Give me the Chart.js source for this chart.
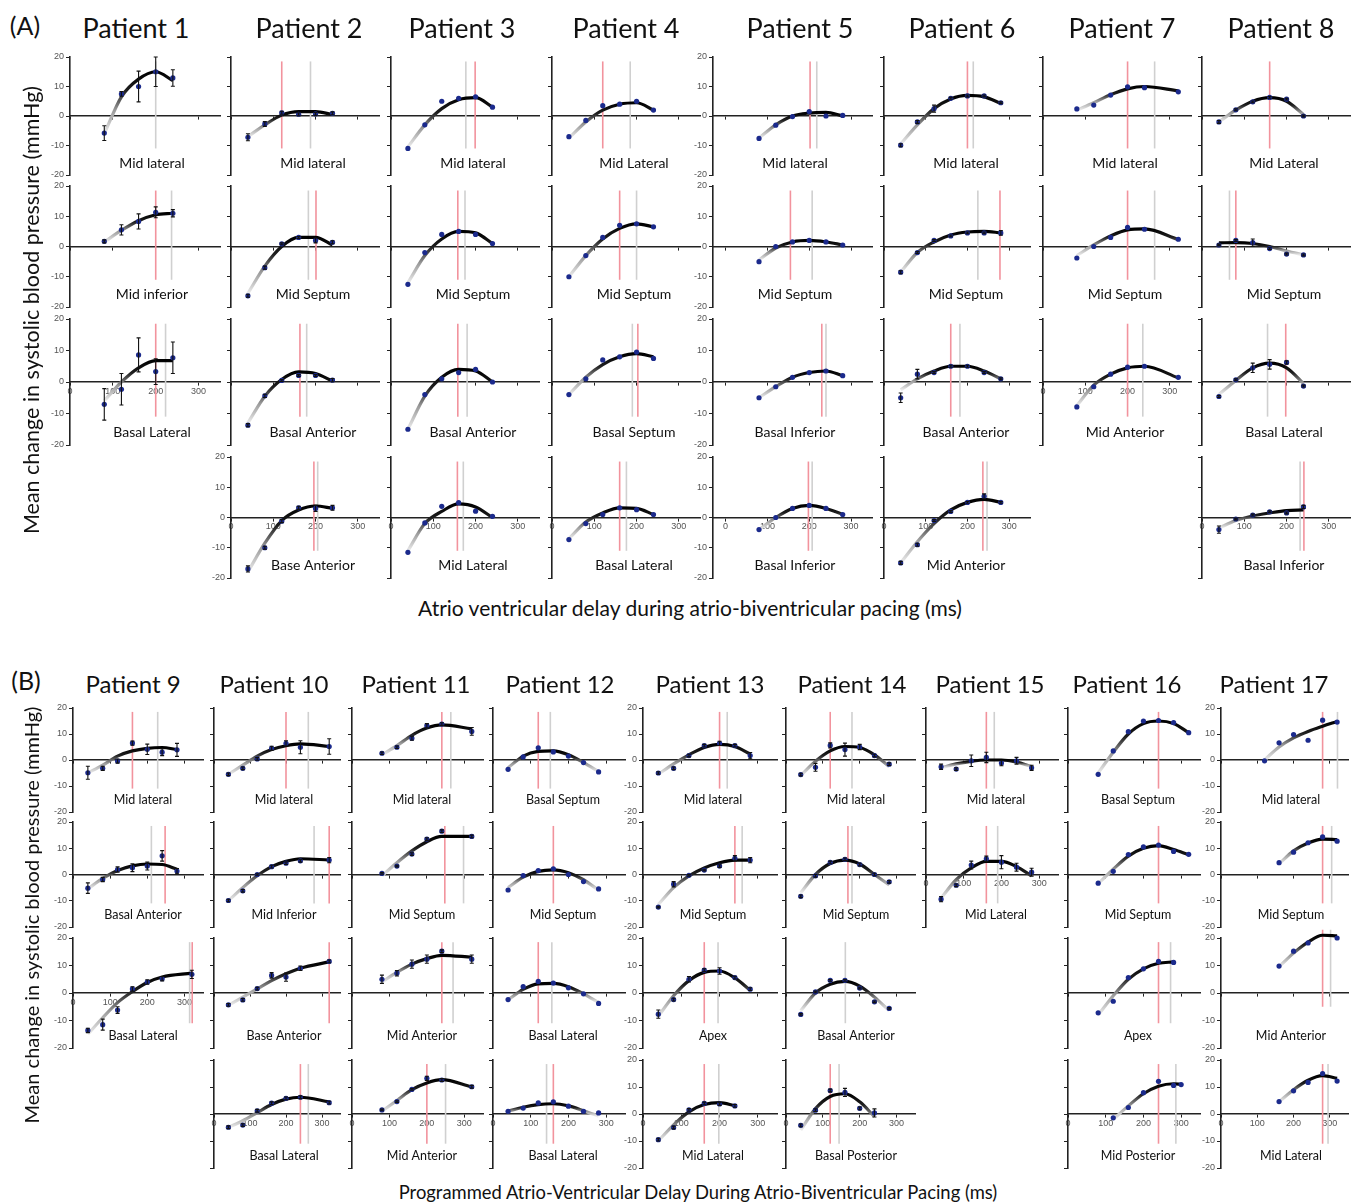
<!DOCTYPE html>
<html>
<head>
<meta charset="utf-8">
<script src="https://cdn.jsdelivr.net/npm/chart.js@4.4.0/dist/chart.umd.min.js"></script>
<style>
  body { margin: 0; background: #fff; width: 1354px; height: 1204px; position: relative; overflow: hidden; font-family: Lato, "Noto Sans", sans-serif; color: #111; }
  .t { position: absolute; white-space: nowrap; transform: translate(-50%, -50%); }
  .rot { transform: translate(-50%, -50%) rotate(-90deg); }
  canvas { position: absolute; }
</style>
</head>
<body>
<script>
// ---- data ----
const avTicks = [0, 100, 200, 300];
const sbpTicks = [-20, -10, 0, 10, 20];
const refSpan = [-11, 18.5];

const patientsA = ['Patient 1', 'Patient 2', 'Patient 3', 'Patient 4', 'Patient 5', 'Patient 6', 'Patient 7', 'Patient 8'];
const patientsB = ['Patient 9', 'Patient 10', 'Patient 11', 'Patient 12', 'Patient 13', 'Patient 14', 'Patient 15', 'Patient 16', 'Patient 17'];

// patient 1
const p1_sites = ['Mid lateral', 'Mid inferior', 'Basal Lateral'];
const p1_av = [[80, 120, 160, 200, 240], [80, 120, 160, 200, 240], [80, 120, 160, 200, 240]];
const p1_sbp = [[-5.8, 7.5, 10, 15, 12.9], [1.7, 5.5, 8.3, 11.3, 11], [-7.1, -2.3, 8.6, 3.3, 7.7]];
const p1_fit = [[-6, 6.5, 12.5, 15, 12], [1.5, 5.3, 8.5, 10.5, 11], [-6, 0, 4.5, 6.8, 6.8]];
const p1_err = [[2.5, 0.8, 5.2, 5, 2.8], [0.5, 1.7, 2.5, 1.8, 1.2], [5, 5, 5.4, 4.1, 5]];
const p1_opt = [null, 200, 200];
const p1_alt = [200, 237, 223];

// patient 2
const p2_sites = ['Mid lateral', 'Mid Septum', 'Basal Anterior', 'Base Anterior'];
const p2_av = [[40, 80, 120, 160, 200, 240], [40, 80, 120, 160, 200, 240], [40, 80, 120, 160, 200, 240], [40, 80, 120, 160, 200, 240]];
const p2_sbp = [[-7.2, -2.7, 1.1, 0.6, 0.7, 0.9], [-16.3, -7, 0.9, 3, 2, 1.4], [-13.7, -4.4, 0.5, 2.1, 2.1, 0.6], [-17, -10, -1.2, 3.2, 3, 3.2]];
const p2_fit = [[-7, -3, 0.3, 1.5, 1.5, 0.5], [-15.5, -6.5, 0, 3, 3, 0.5], [-13, -4.5, 0.8, 3.2, 2.7, 0.3], [-18, -8.5, -1, 2.5, 3.8, 3]];
const p2_err = [[1.2, 0.8, 0.5, 0.5, 0.5, 0.5], [0.5, 0.5, 0.3, 0.3, 0.8, 0.5], [0.5, 0.5, 0.3, 0.3, 0.3, 0.5], [1, 0.5, 0.5, 0.5, 1, 0.8]];
const p2_opt = [120, 201, 163, 196];
const p2_alt = [188, 183, 179, 205];

// patient 3
const p3_sites = ['Mid lateral', 'Mid Septum', 'Basal Anterior', 'Mid Lateral'];
const p3_av = [[40, 80, 120, 160, 200, 240], [40, 80, 120, 160, 200, 240], [40, 80, 120, 160, 200, 240], [40, 80, 120, 160, 200, 240]];
const p3_sbp = [[-11, -3, 5, 6, 6.5, 3], [-12.5, -2, 4, 5, 4, 1], [-15, -4, 1, 3, 4, 0], [-11.5, -1.8, 3.7, 4.9, 2.1, 0.4]];
const p3_fit = [[-10.5, -3, 2.5, 5.5, 6.2, 3], [-12, -3, 2.5, 5, 4.5, 1], [-15, -4.5, 1.5, 4, 3.5, 0], [-11, -2, 2, 4.5, 3.5, 0]];
const p3_opt = [199, 158, 158, 157];
const p3_alt = [177, 175, 180, 171];

// patient 4
const p4_sites = ['Mid Lateral', 'Mid Septum', 'Basal Septum', 'Basal Lateral'];
const p4_av = [[40, 80, 120, 160, 200, 240], [40, 80, 120, 160, 200, 240], [40, 80, 120, 160, 200, 240], [40, 80, 120, 160, 200, 240]];
const p4_sbp = [[-7, -1.5, 3.5, 4, 5, 2], [-10, -3, 3, 7, 7.5, 6.5], [-4, 1, 7, 8, 9.5, 7.5], [-7.3, -2, 1, 3.2, 2.6, 1]];
const p4_fit = [[-7.5, -2, 2, 4, 4.5, 2], [-10, -3, 2.5, 6, 7.5, 6.5], [-4, 1.5, 5.5, 8, 9, 8], [-7, -1.5, 1.5, 3.2, 3, 1]];
const p4_opt = [120, 160, 203, 160];
const p4_alt = [185, 200, 190, 176];

// patient 5
const p5_sites = ['Mid lateral', 'Mid Septum', 'Basal Inferior', 'Basal Inferior'];
const p5_av = [[80, 120, 160, 200, 240, 280], [80, 120, 160, 200, 240, 280], [80, 120, 160, 200, 240, 280], [80, 120, 160, 200, 240, 280]];
const p5_sbp = [[-7.6, -3.1, -0.2, 1.5, 0, 0.2], [-5, 0, 1.5, 2, 1.5, 0.5], [-5, -1.5, 1.5, 3, 3.5, 2], [-4, 0, 3, 4, 3, 1]];
const p5_fit = [[-7.5, -3, 0, 1, 1.2, 0], [-4.5, -0.5, 1.5, 2, 1.5, 0.5], [-5, -1.5, 1.5, 3, 3.5, 2], [-4, 0, 3, 4, 3, 1]];
const p5_opt = [202, 155, 230, 198];
const p5_alt = [218, 207, 240, 207];

// patient 6
const p6_sites = ['Mid lateral', 'Mid Septum', 'Basal Anterior', 'Mid Anterior'];
const p6_av = [[40, 80, 120, 160, 200, 240, 280], [40, 80, 120, 160, 200, 240, 280], [40, 80, 120, 160, 200, 240, 280], [40, 80, 120, 160, 200, 240, 280]];
const p6_sbp = [[-9.9, -2, 2.5, 6, 6.8, 6.8, 4.5], [-8.5, -2, 2, 3.5, 4.5, 4.5, 4.5], [-5, 2.5, 3, 5, 5, 3, 1], [-15, -9, -1, 2, 5, 7, 5]];
const p6_fit = [[-9.5, -3, 2.5, 5.8, 7, 6.5, 4.3], [-8.5, -2, 1.5, 3.8, 4.8, 5, 4.5], [-2.5, 1, 3.5, 5, 5, 3.5, 1], [-15, -8, -2, 2.5, 5, 6, 5]];
const p6_err = [[0.5, 0.5, 1.2, 0.3, 0.3, 0.3, 0.3], [0.5, 0.3, 0.3, 0.3, 0.3, 0.3, 0.8], [1.5, 1.5, 0.3, 0.3, 0.3, 0.3, 0.3], [0.5, 0.5, 0.3, 0.3, 0.3, 0.8, 0.3]];
const p6_opt = [200, 278, 160, 237];
const p6_alt = [214, 225, 182, 247];

// patient 7
const p7_sites = ['Mid lateral', 'Mid Septum', 'Mid Anterior'];
const p7_av = [[80, 120, 160, 200, 240, 320], [80, 120, 160, 200, 240, 320], [80, 120, 160, 200, 240, 320]];
const p7_sbp = [[2.4, 3.7, 7.1, 9.9, 9.6, 8.2], [-3.8, 0, 3, 6.3, 5.7, 2.4], [-7.9, -1.5, 2.5, 4.7, 5, 1.5]];
const p7_fit = [[2, 4.5, 7.2, 9.2, 10, 8.5], [-3, 0.5, 3.5, 5.5, 5.8, 2.3], [-7.5, -1, 2.5, 4.5, 5, 1.3]];
const p7_opt = [200, 200, 200];
const p7_alt = [264, 264, 236];

// patient 8
const p8_sites = ['Mid Lateral', 'Mid Septum', 'Basal Lateral', 'Basal Inferior'];
const p8_av = [[40, 80, 120, 160, 200, 240], [40, 80, 120, 160, 200, 240], [40, 80, 120, 160, 200, 240], [40, 80, 120, 160, 200, 240]];
const p8_sbp = [[-2, 2.1, 4.8, 6.3, 5.7, 0], [0.5, 2, 1.3, -0.7, -2.5, -2.8], [-4.6, 0.7, 4.5, 5.6, 6.2, -1.3], [-4, -0.5, 0.8, 1.9, 1.5, 3.5]];
const p8_fit = [[-2, 2, 5, 6.2, 5, 0.5], [1.2, 1.3, 1, 0, -1.5, -2.8], [-4, 0.5, 4.5, 6, 4.5, -0.5], [-3.5, -1, 0.5, 1.5, 2.3, 2.5]];
const p8_err = [[0.5, 0.3, 0.3, 0.3, 0.3, 0.3], [0.3, 0.3, 1.2, 0.3, 0.3, 0.3], [0.3, 0.3, 1.5, 1.5, 0.5, 0.3], [1.2, 0.3, 0.3, 0.3, 0.3, 0.5]];
const p8_opt = [160, 80, 198, 241];
const p8_alt = [null, 65, 155, 232];

// patient 9
const p9_sites = ['Mid lateral', 'Basal Anterior', 'Basal Lateral'];
const p9_av = [[40, 80, 120, 160, 200, 240, 280], [40, 80, 120, 160, 200, 240, 280], [40, 80, 120, 160, 200, 240, 320]];
const p9_sbp = [[-4.9, -3.2, -0.4, 6.5, 4.1, 3, 3.9], [-5.2, -1.9, 1.9, 2.6, 3.2, 7.1, 1.3], [-13.6, -11.5, -6.2, 1.5, 4, 5.2, 6.8]];
const p9_fit = [[-5, -2, 1.5, 3.5, 4.5, 4.8, 4], [-5.5, -1.5, 1.5, 3.3, 4, 3.8, 2], [-15, -9, -3.5, 0.5, 3.8, 5.8, 7.2]];
const p9_err = [[2.5, 0.8, 0.8, 0.8, 2, 1.3, 2.5], [2, 0.8, 1, 1.5, 1.5, 2, 1], [0.8, 2, 1.2, 0.8, 0.8, 0.8, 1.5]];
const p9_opt = [160, 248, 321];
const p9_alt = [228, 211, 314];

// patient 10
const p10_sites = ['Mid lateral', 'Mid Inferior', 'Base Anterior', 'Basal Lateral'];
const p10_av = [[40, 80, 120, 160, 200, 240, 320], [40, 80, 120, 160, 200, 240, 320], [40, 80, 120, 160, 200, 240, 320], [40, 80, 120, 160, 200, 240, 320]];
const p10_sbp = [[-5.5, -3.2, 0.4, 4.5, 6.4, 4.9, 5.2], [-9.9, -6.2, 0, 3, 4.3, 5.2, 5.5], [-4.3, -2.5, 1.6, 6.4, 5.8, 9, 11.5], [-4.9, -4.1, 1.2, 4, 5.8, 6.2, 4.2]];
const p10_fit = [[-5.5, -2, 1.5, 4, 5.5, 6.2, 5.2], [-10, -5, -0.5, 3, 5, 6, 5.5], [-4.5, -1.5, 1.5, 4.5, 7, 9, 11.3], [-5, -2.5, 0.5, 3.5, 5.5, 6.2, 4.5]];
const p10_err = [[0.5, 0.5, 0.5, 0.8, 1, 2.5, 3], [0.5, 0.5, 0.3, 0.5, 0.5, 0.5, 1], [0.5, 0.5, 0.5, 1, 1.5, 0.8, 0.5], [0.5, 0.5, 0.5, 0.5, 0.5, 0.5, 0.5]];
const p10_opt = [200, 320, 320, 240];
const p10_alt = [262, 278, null, 262];

// patient 11
const p11_sites = ['Mid lateral', 'Mid Septum', 'Mid Anterior', 'Mid Anterior'];
const p11_av = [[80, 120, 160, 200, 240, 320], [80, 120, 160, 200, 240, 320], [80, 120, 160, 200, 240, 320], [80, 120, 160, 200, 240, 320]];
const p11_sbp = [[2.6, 4.9, 8.4, 13.2, 13.8, 11], [0.4, 3.2, 7.8, 13.5, 16.5, 14.5], [5, 7.2, 10.5, 12.3, 15.2, 12.3], [1.5, 4.6, 9.1, 13.2, 12.6, 10.1]];
const p11_fit = [[2, 5.5, 9.5, 12.3, 13.5, 12], [-0.5, 4.5, 9, 12.5, 14.5, 14.5], [4, 7.5, 10.5, 12.5, 13.7, 13], [1, 5, 9, 11.5, 12.7, 10]];
const p11_err = [[0.5, 0.5, 0.8, 0.8, 0.5, 1.5], [0.3, 0.3, 0.5, 0.5, 0.5, 0.5], [1.5, 1, 1.5, 1.5, 0.5, 1.5], [0.3, 0.3, 0.3, 0.8, 0.5, 0.5]];
const p11_opt = [240, 248, 240, 200];
const p11_alt = [264, 298, 270, 250];

// patient 12
const p12_sites = ['Basal Septum', 'Mid Septum', 'Basal Lateral', 'Basal Lateral'];
const p12_av = [[40, 80, 120, 160, 200, 240, 280], [40, 80, 120, 160, 200, 240, 280], [40, 80, 120, 160, 200, 240, 280], [40, 80, 120, 160, 200, 240, 280]];
const p12_sbp = [[-3.6, 1.2, 4.7, 3.1, 1.5, -1, -4.6], [-5.9, -0.4, 1.5, 2.2, 0, -2.7, -5.5], [-2.4, 2.3, 4.2, 3.6, 1.9, -0.3, -3.8], [1, 2.2, 4.1, 4.5, 2.9, 1, 0.4]];
const p12_fit = [[-3, 1.5, 3.3, 3.5, 2, -1, -4.5], [-5, -1, 1.2, 1.8, 0.7, -2, -6], [-2.5, 1.3, 3.3, 3.5, 2.3, -0.3, -3.5], [1, 2.5, 3.5, 3.8, 3, 1.2, -0.8]];
const p12_opt = [120, 160, 120, 160];
const p12_alt = [152, null, 156, 142];

// patient 13
const p13_sites = ['Mid lateral', 'Mid Septum', 'Apex', 'Mid Lateral'];
const p13_av = [[40, 80, 120, 160, 200, 240, 280], [40, 80, 120, 160, 200, 240, 280], [40, 80, 120, 160, 200, 240, 280], [40, 80, 120, 160, 200, 240]];
const p13_sbp = [[-5, -3.2, 1.7, 5.5, 6.4, 5.5, 1.7], [-12.4, -3.7, -0.3, 1.7, 3.2, 6.2, 5.5], [-7.7, -2.4, 5, 8.3, 8, 5.6, 1.4], [-9.5, -5, 1.5, 3.9, 3.7, 3]];
const p13_fit = [[-5.5, -1.5, 2, 4.8, 6, 5.2, 2.3], [-11.5, -5, -0.5, 2.5, 4.5, 5.5, 5.5], [-8.5, -1, 4.5, 7.5, 8, 5.5, 1], [-10, -4, 0.8, 3.5, 4.2, 3]];
const p13_err = [[0.5, 0.5, 0.5, 0.5, 0.8, 0.5, 1.2], [0.3, 1, 0.3, 0.3, 0.5, 1, 1], [1.5, 0.5, 1, 0.5, 1.2, 0.5, 0.5], [0.5, 0.5, 0.5, 0.5, 0.5, 0.5]];
const p13_opt = [200, 240, 160, 160];
const p13_alt = [220, 259, 196, 198];

// patient 14
const p14_sites = ['Mid lateral', 'Mid Septum', 'Basal Anterior', 'Basal Posterior'];
const p14_av = [[40, 80, 120, 160, 200, 240, 280], [40, 80, 120, 160, 200, 240, 280], [40, 80, 120, 160, 200, 240, 280], [40, 80, 120, 160, 200, 240]];
const p14_sbp = [[-5.6, -2.8, 5.6, 4, 5, 1.7, -1.6], [-8.3, -0.5, 4.6, 5.8, 3.8, 0, -2.8], [-7.8, 0.4, 4.6, 4.6, 1.8, -3.2, -5.6], [-4.2, 1.4, 8.7, 8, 2.1, 0.4]];
const p14_fit = [[-6, -0.5, 3.5, 5.2, 4.8, 2, -2.5], [-7, 0, 4.2, 5.5, 4, 0, -4], [-6.5, 0, 3.2, 4.2, 2.5, -1.5, -6.5], [-6, 2, 6.5, 7.5, 4.5, -1]];
const p14_err = [[0.5, 1.5, 1, 2.5, 1, 0.5, 0.5], [0.5, 0.5, 0.5, 0.5, 0.5, 0.5, 0.5], [0.3, 0.3, 0.3, 0.3, 0.3, 0.3, 0.3], [0.5, 0.5, 0.5, 1.5, 0.5, 1.5]];
const p14_opt = [120, 168, null, 120];
const p14_alt = [179, 179, 161, 144];

// patient 15
const p15_sites = ['Mid lateral', 'Mid Lateral'];
const p15_av = [[40, 80, 120, 160, 200, 240, 280], [40, 80, 120, 160, 200, 240, 280]];
const p15_sbp = [[-2.6, -3.5, -0.3, 1, -1.2, -0.3, -3], [-9.4, -4.1, 3.6, 6, 4.7, 2.8, 0.9]];
const p15_fit = [[-3, -1.5, -0.5, 0, 0, -0.8, -2.5], [-9, -2, 2.5, 5, 5, 3, -0.5]];
const p15_err = [[1, 0.5, 2.2, 2, 1, 1.3, 1], [1, 0.5, 1.5, 1, 2.5, 1.5, 1.5]];
const p15_opt = [160, 160];
const p15_alt = [181, 190];

// patient 16
const p16_sites = ['Basal Septum', 'Mid Septum', 'Apex', 'Mid Posterior'];
const p16_av = [[80, 120, 160, 200, 240, 280, 320], [80, 120, 160, 200, 240, 280, 320], [80, 120, 160, 200, 240, 280], [120, 160, 200, 240, 280, 300]];
const p16_sbp = [[-5.5, 3.5, 10.9, 15, 15.2, 14.4, 10.5], [-3.3, 1.2, 7.6, 10.5, 11.2, 8.8, 7.7], [-7.2, -3, 5.6, 8.8, 11.5, 11.1], [-1.4, 2.4, 7.9, 12.1, 10.6, 10.9]];
const p16_fit = [[-5, 3, 10, 14, 15, 14, 10.5], [-3.5, 2, 7, 10, 11, 9.5, 7.5], [-8, -1, 5, 8.8, 10.8, 11.3], [-2, 3, 7.5, 10.3, 11.2, 11]];
const p16_opt = [240, 240, 240, 240];
const p16_alt = [null, null, 272, 286];

// patient 17
const p17_sites = ['Mid lateral', 'Mid Septum', 'Mid Anterior', 'Mid Lateral'];
const p17_av = [[120, 160, 200, 240, 280, 320], [160, 200, 240, 280, 320], [160, 200, 240, 280, 320], [160, 200, 240, 280, 320]];
const p17_sbp = [[-0.3, 6.6, 9.8, 7.6, 15.3, 14.6], [4.5, 8.5, 12.1, 14.3, 12.7], [9.8, 15.2, 18.2, 22.7, 20], [4.6, 8.6, 11.7, 15, 12.2]];
const p17_fit = [[0, 5, 8.5, 11, 13, 14.8], [4, 9, 12, 13.5, 13.3], [9.5, 14.5, 18.5, 21, 20.8], [4.5, 9, 12.5, 14.2, 13.2]];
const p17_opt = [280, 280, 280, 280];
const p17_alt = [321, 305, 302, 295];
const p17_span = [null, null, [-5, 23], null];

// ---- layout ----
const PADL = 30, PADT = 10, PADR = 4, PADB = 10;
const colsA = [
  { x: 70, w: 150 }, { x: 231, w: 148 }, { x: 391, w: 148 }, { x: 552, w: 148 },
  { x: 713, w: 159, xmin: -30 }, { x: 884, w: 146 }, { x: 1043, w: 148 }, { x: 1202, w: 148 }
];
const rowsA = [[57, 175], [186, 307], [319, 445], [457, 578]];
const titleXA = [136, 309, 462, 626, 800, 962, 1122, 1281];
const colsB = [
  { x: 73, w: 130 }, { x: 214, w: 126 }, { x: 352, w: 131 }, { x: 493, w: 132 }, { x: 643, w: 134 },
  { x: 786, w: 129 }, { x: 926, w: 132 }, { x: 1068, w: 132 }, { x: 1221, w: 127 }
];
const rowsB = [[708, 812], [822, 927], [938, 1048], [1060, 1168]];
const titleXB = [133, 274, 416, 560, 710, 852, 990, 1127, 1274];

// which small charts carry y tick numbers
function yNumbersA(col, row) { return col === 0 || col === 4 || (col === 1 && row === 3); }
function yNumbersB(col, row) { return col === 0 || col === 4 || col === 8; }

function text(str, x, y, size, extra) {
  const d = document.createElement('div');
  d.className = 't' + (extra ? ' ' + extra : '');
  d.textContent = str;
  d.style.left = x + 'px';
  d.style.top = y + 'px';
  d.style.fontSize = size + 'px';
  document.body.appendChild(d);
}

function curveColor(c, fit) {
  const chart = c.chart;
  const area = chart.chartArea;
  if (!area) return '#000';
  const y = chart.scales.y;
  const top = y.getPixelForValue(Math.max(...fit));
  const bot = y.getPixelForValue(Math.min(...fit));
  if (bot - top < 2) return '#000';
  const g = chart.ctx.createLinearGradient(0, top, 0, bot);
  g.addColorStop(0, '#000');
  g.addColorStop(0.3, '#1e1e1e');
  g.addColorStop(0.62, '#9a9a9a');
  g.addColorStop(1, '#ececec');
  return g;
}

const siteLabel = {
  id: 'siteLabel',
  afterDraw(chart, args, o) {
    const { ctx, chartArea, scales } = chart;
    ctx.save();
    ctx.font = o.size + 'px Lato, "Noto Sans", sans-serif';
    ctx.fillStyle = '#111';
    ctx.textAlign = 'center';
    ctx.textBaseline = 'middle';
    ctx.fillText(o.text, chartArea.left + o.dx, scales.y.getPixelForValue(o.y));
    ctx.restore();
  }
};

const errorBars = {
  id: 'errorBars',
  afterDatasetsDraw(chart) {
    const { ctx, scales } = chart;
    chart.data.datasets.forEach(ds => {
      if (!ds.errors) return;
      ctx.save();
      ctx.strokeStyle = '#111';
      ctx.lineWidth = 1.1;
      ds.data.forEach((p, j) => {
        const e = ds.errors[j];
        if (!e) return;
        const x = scales.x.getPixelForValue(p.x);
        const y1 = scales.y.getPixelForValue(p.y + e);
        const y2 = scales.y.getPixelForValue(p.y - e);
        ctx.beginPath();
        ctx.moveTo(x, y1); ctx.lineTo(x, y2);
        ctx.moveTo(x - 2, y1); ctx.lineTo(x + 2, y1);
        ctx.moveTo(x - 2, y2); ctx.lineTo(x + 2, y2);
        ctx.stroke();
      });
      ctx.restore();
    });
  }
};

function refLine(v, color, span) {
  return {
    data: [{ x: v, y: span[0] }, { x: v, y: span[1] }],
    showLine: true, borderColor: color, borderWidth: 1.6, pointRadius: 0, clip: false
  };
}

function smallChart(c) {
  const h = c.bottom - c.top;
  const cv = document.createElement('canvas');
  cv.width = c.w + PADL + PADR;
  cv.height = h + PADT + PADB;
  cv.style.left = (c.left - PADL) + 'px';
  cv.style.top = (c.top - PADT) + 'px';
  document.body.appendChild(cv);

  const showY = c.showY === true;
  const showX = c.showX === true;
  const pts = c.av.map((x, i) => ({ x: x, y: c.sbp[i] }));
  const curve = c.av.map((x, i) => ({ x: x, y: c.fit[i] }));
  const span = c.span || refSpan;
  const datasets = [
    { data: pts, pointRadius: 2.6, pointBackgroundColor: '#1b2a8c', pointBorderColor: '#1b2a8c', pointBorderWidth: 0, errors: c.err, clip: false },
    { data: curve, showLine: true, borderColor: ctx => curveColor(ctx, c.fit), borderWidth: 3.2, pointRadius: 0, cubicInterpolationMode: 'monotone', clip: false }
  ];
  if (c.opt != null) datasets.push(refLine(c.opt, '#f2939d', span));
  if (c.alt != null) datasets.push(refLine(c.alt, '#d0d0d0', span));

  new Chart(cv, {
    type: 'scatter',
    data: { datasets: datasets },
    plugins: [siteLabel, errorBars],
    options: {
      responsive: false,
      animation: false,
      events: [],
      layout: { padding: { top: PADT, bottom: PADB, left: 0, right: PADR } },
      plugins: {
        legend: { display: false },
        tooltip: { enabled: false },
        siteLabel: { text: c.site, dx: c.labelDx, y: c.labelY, size: c.labelSize }
      },
      scales: {
        x: {
          type: 'linear', min: c.xmin || 0, max: 350, position: { y: 0 },
          afterBuildTicks: s => { s.ticks = avTicks.map(v => ({ value: v })); },
          grid: { drawOnChartArea: false, drawTicks: true, tickLength: 3, color: '#222', lineWidth: 1 },
          border: { display: true, color: '#222', width: 1.6 },
          ticks: {
            display: showX, autoSkip: false, maxRotation: 0, padding: 1, color: '#555',
            font: { size: 9, family: 'Liberation Sans' },
            callback: v => (showX ? String(v) : '')
          }
        },
        y: {
          min: -20, max: 20,
          afterBuildTicks: s => { s.ticks = sbpTicks.map(v => ({ value: v })); },
          afterFit: s => { s.width = PADL; },
          grid: { drawOnChartArea: false, drawTicks: true, tickLength: 4, color: '#222', lineWidth: 1 },
          border: { display: true, color: '#222', width: 1.6 },
          ticks: {
            display: showY, autoSkip: false, padding: 2, color: '#555',
            font: { size: 9, family: 'Liberation Sans' },
            callback: v => (showY ? String(v) : '')
          }
        }
      }
    }
  });
}

function patientColumn(p, colIdx, col, rows, yNumbers, lab) {
  p.sites.forEach((site, r) => {
    smallChart({
      left: col.x, w: col.w, xmin: col.xmin, top: rows[r][0], bottom: rows[r][1],
      av: p.av[r], sbp: p.sbp[r], fit: p.fit[r], err: p.err ? p.err[r] : null,
      opt: p.opt[r], alt: p.alt[r], span: p.span ? p.span[r] : null,
      site: site, labelDx: lab.dx, labelY: lab.y, labelSize: lab.size,
      showX: r === p.sites.length - 1,
      showY: yNumbers(colIdx, r)
    });
  });
}

const panelA = [
  { sites: p1_sites, av: p1_av, sbp: p1_sbp, fit: p1_fit, err: p1_err, opt: p1_opt, alt: p1_alt },
  { sites: p2_sites, av: p2_av, sbp: p2_sbp, fit: p2_fit, err: p2_err, opt: p2_opt, alt: p2_alt },
  { sites: p3_sites, av: p3_av, sbp: p3_sbp, fit: p3_fit, opt: p3_opt, alt: p3_alt },
  { sites: p4_sites, av: p4_av, sbp: p4_sbp, fit: p4_fit, opt: p4_opt, alt: p4_alt },
  { sites: p5_sites, av: p5_av, sbp: p5_sbp, fit: p5_fit, opt: p5_opt, alt: p5_alt },
  { sites: p6_sites, av: p6_av, sbp: p6_sbp, fit: p6_fit, err: p6_err, opt: p6_opt, alt: p6_alt },
  { sites: p7_sites, av: p7_av, sbp: p7_sbp, fit: p7_fit, opt: p7_opt, alt: p7_alt },
  { sites: p8_sites, av: p8_av, sbp: p8_sbp, fit: p8_fit, err: p8_err, opt: p8_opt, alt: p8_alt }
];
const panelB = [
  { sites: p9_sites, av: p9_av, sbp: p9_sbp, fit: p9_fit, err: p9_err, opt: p9_opt, alt: p9_alt },
  { sites: p10_sites, av: p10_av, sbp: p10_sbp, fit: p10_fit, err: p10_err, opt: p10_opt, alt: p10_alt },
  { sites: p11_sites, av: p11_av, sbp: p11_sbp, fit: p11_fit, err: p11_err, opt: p11_opt, alt: p11_alt },
  { sites: p12_sites, av: p12_av, sbp: p12_sbp, fit: p12_fit, opt: p12_opt, alt: p12_alt },
  { sites: p13_sites, av: p13_av, sbp: p13_sbp, fit: p13_fit, err: p13_err, opt: p13_opt, alt: p13_alt },
  { sites: p14_sites, av: p14_av, sbp: p14_sbp, fit: p14_fit, err: p14_err, opt: p14_opt, alt: p14_alt },
  { sites: p15_sites, av: p15_av, sbp: p15_sbp, fit: p15_fit, err: p15_err, opt: p15_opt, alt: p15_alt },
  { sites: p16_sites, av: p16_av, sbp: p16_sbp, fit: p16_fit, opt: p16_opt, alt: p16_alt },
  { sites: p17_sites, av: p17_av, sbp: p17_sbp, fit: p17_fit, opt: p17_opt, alt: p17_alt, span: p17_span }
];

panelA.forEach((p, i) => {
  patientColumn(p, i, colsA[i], rowsA, yNumbersA, { dx: 82, y: -16, size: 14 });
  text(patientsA[i], titleXA[i], 27, 27);
});
panelB.forEach((p, i) => {
  patientColumn(p, i, colsB[i], rowsB, yNumbersB, { dx: 70, y: -15.5, size: 12.5 });
  text(patientsB[i], titleXB[i], 683, 24);
});

text('(A)', 25, 25, 25);
text('(B)', 26, 680, 25);
text('Mean change in systolic blood pressure (mmHg)', 31, 310, 21.5, 'rot');
text('Mean change in systolic blood pressure (mmHg)', 31, 915, 20, 'rot');
text('Atrio ventricular delay during atrio-biventricular pacing (ms)', 690, 607, 21);
text('Programmed Atrio-Ventricular Delay During Atrio-Biventricular Pacing (ms)', 698, 1192, 18.4);
</script>
</body>
</html>
